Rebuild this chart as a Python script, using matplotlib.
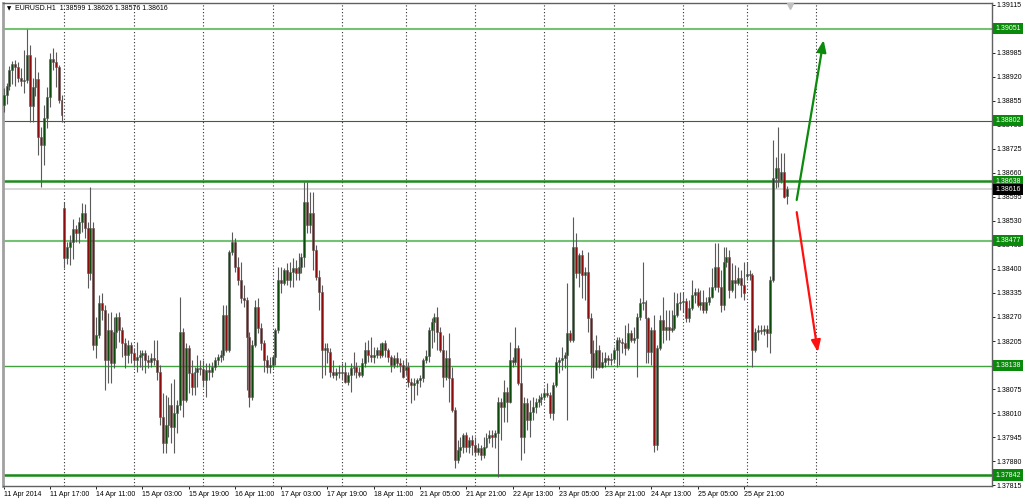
import matplotlib
matplotlib.use('Agg')
import matplotlib.pyplot as plt

# EURUSD H1 candles, bar 0 = 11 Apr 2014 01:00
opens = [
    1.38844, 1.38871, 1.38896, 1.38939, 1.38955, 1.38947, 1.38917, 1.38909, 1.38912, 1.38980,
    1.38841, 1.38893, 1.38915, 1.38757, 1.38736, 1.38809, 1.38866, 1.38969, 1.38961, 1.38947,
    1.38858, 1.38565, 1.38430, 1.38460, 1.38473, 1.38508, 1.38497, 1.38527, 1.38552, 1.38511,
    1.38389, 1.38511, 1.38194, 1.38221, 1.38308, 1.38289, 1.38154, 1.38235, 1.38145, 1.38229,
    1.38270, 1.38235, 1.38200, 1.38167, 1.38194, 1.38172, 1.38154, 1.38162, 1.38167, 1.38172,
    1.38154, 1.38148, 1.38159, 1.38154, 1.38121, 1.37999, 1.37929, 1.37977, 1.38032, 1.37972,
    1.38010, 1.38032, 1.38229, 1.38045, 1.38186, 1.38118, 1.38080, 1.38121, 1.38132, 1.38129,
    1.38099, 1.38126, 1.38121, 1.38135, 1.38154, 1.38162, 1.38167, 1.38275, 1.38181, 1.38446,
    1.38473, 1.38405, 1.38370, 1.38321, 1.38316, 1.38216, 1.38053, 1.38194, 1.38297, 1.38240,
    1.38200, 1.38154, 1.38135, 1.38140, 1.38162, 1.38235, 1.38370, 1.38362, 1.38397, 1.38370,
    1.38392, 1.38403, 1.38389, 1.38405, 1.38432, 1.38581, 1.38519, 1.38552, 1.38451, 1.38378,
    1.38338, 1.38181, 1.38186, 1.38175, 1.38121, 1.38113, 1.38121, 1.38118, 1.38121, 1.38094,
    1.38113, 1.38132, 1.38135, 1.38121, 1.38113, 1.38145, 1.38181, 1.38167, 1.38162, 1.38167,
    1.38181, 1.38167, 1.38200, 1.38181, 1.38162, 1.38140, 1.38159, 1.38145, 1.38140, 1.38126,
    1.38135, 1.38094, 1.38086, 1.38091, 1.38099, 1.38105, 1.38154, 1.38164, 1.38235, 1.38256,
    1.38270, 1.38229, 1.38181, 1.38107, 1.38159, 1.38105, 1.38018, 1.37883, 1.37910, 1.37918,
    1.37950, 1.37918, 1.37937, 1.37923, 1.37904, 1.37915, 1.37896, 1.37918, 1.37942, 1.37950,
    1.37945, 1.37956, 1.38040, 1.38026, 1.38067, 1.38040, 1.38154, 1.38148, 1.38186, 1.38091,
    1.37945, 1.38037, 1.37991, 1.38013, 1.38026, 1.38040, 1.38048, 1.38053, 1.38064, 1.38059,
    1.38010, 1.38086, 1.38148, 1.38154, 1.38159, 1.38167, 1.38227, 1.38208, 1.38460, 1.38389,
    1.38438, 1.38384, 1.38392, 1.38267, 1.38172, 1.38135, 1.38181, 1.38135, 1.38148, 1.38159,
    1.38154, 1.38156, 1.38181, 1.38208, 1.38202, 1.38200, 1.38186, 1.38227, 1.38208, 1.38213,
    1.38270, 1.38308, 1.38311, 1.38267, 1.38175, 1.38235, 1.37923, 1.38186, 1.38262, 1.38235,
    1.38243, 1.38235, 1.38240, 1.38275, 1.38308, 1.38311, 1.38313, 1.38267, 1.38294, 1.38330,
    1.38338, 1.38302, 1.38311, 1.38289, 1.38311, 1.38324, 1.38351, 1.38405, 1.38351, 1.38302,
    1.38419, 1.38432, 1.38343, 1.38370, 1.38362, 1.38376, 1.38357, 1.38381, 1.38386, 1.38384,
    1.38181, 1.38229, 1.38235, 1.38232, 1.38237, 1.38227, 1.38370, 1.38646, 1.38674, 1.38641,
    1.38663, 1.38599,
]
highs = [
    1.38890, 1.38904, 1.38950, 1.38963, 1.38966, 1.38961, 1.38944, 1.38993, 1.39050, 1.39007,
    1.38917, 1.38974, 1.38934, 1.38785, 1.38844, 1.38893, 1.38985, 1.38999, 1.38988, 1.38952,
    1.38871, 1.38581, 1.38473, 1.38492, 1.38535, 1.38519, 1.38541, 1.38579, 1.38576, 1.38527,
    1.38622, 1.38527, 1.38270, 1.38330, 1.38335, 1.38302, 1.38281, 1.38284, 1.38270, 1.38281,
    1.38284, 1.38243, 1.38213, 1.38208, 1.38202, 1.38186, 1.38202, 1.38181, 1.38181, 1.38181,
    1.38167, 1.38172, 1.38208, 1.38208, 1.38140, 1.38064, 1.38059, 1.38053, 1.38091, 1.38102,
    1.38045, 1.38324, 1.38240, 1.38200, 1.38194, 1.38154, 1.38135, 1.38167, 1.38154, 1.38154,
    1.38145, 1.38145, 1.38148, 1.38162, 1.38170, 1.38181, 1.38302, 1.38302, 1.38451, 1.38500,
    1.38484, 1.38432, 1.38419, 1.38357, 1.38324, 1.38229, 1.38208, 1.38316, 1.38321, 1.38254,
    1.38208, 1.38167, 1.38162, 1.38167, 1.38240, 1.38405, 1.38405, 1.38403, 1.38416, 1.38419,
    1.38430, 1.38424, 1.38443, 1.38443, 1.38636, 1.38636, 1.38609, 1.38609, 1.38465, 1.38397,
    1.38357, 1.38200, 1.38200, 1.38186, 1.38154, 1.38132, 1.38140, 1.38145, 1.38148, 1.38121,
    1.38145, 1.38175, 1.38148, 1.38135, 1.38159, 1.38202, 1.38208, 1.38216, 1.38189, 1.38189,
    1.38200, 1.38202, 1.38208, 1.38186, 1.38167, 1.38167, 1.38175, 1.38159, 1.38154, 1.38159,
    1.38148, 1.38105, 1.38105, 1.38105, 1.38113, 1.38159, 1.38181, 1.38243, 1.38267, 1.38281,
    1.38297, 1.38243, 1.38221, 1.38181, 1.38227, 1.38135, 1.38026, 1.37937, 1.37945, 1.37956,
    1.37959, 1.37945, 1.37950, 1.37945, 1.37929, 1.37923, 1.37945, 1.37956, 1.37964, 1.37964,
    1.37964, 1.38053, 1.38051, 1.38099, 1.38080, 1.38202, 1.38162, 1.38243, 1.38194, 1.38159,
    1.38053, 1.38051, 1.38045, 1.38053, 1.38051, 1.38059, 1.38064, 1.38078, 1.38091, 1.38067,
    1.38094, 1.38162, 1.38162, 1.38189, 1.38175, 1.38362, 1.38235, 1.38541, 1.38497, 1.38443,
    1.38451, 1.38405, 1.38446, 1.38281, 1.38208, 1.38221, 1.38194, 1.38175, 1.38175, 1.38167,
    1.38172, 1.38189, 1.38216, 1.38216, 1.38213, 1.38248, 1.38254, 1.38235, 1.38243, 1.38281,
    1.38321, 1.38419, 1.38316, 1.38270, 1.38243, 1.38275, 1.38194, 1.38275, 1.38324, 1.38289,
    1.38289, 1.38289, 1.38338, 1.38335, 1.38338, 1.38338, 1.38321, 1.38316, 1.38370, 1.38349,
    1.38349, 1.38343, 1.38343, 1.38324, 1.38351, 1.38403, 1.38470, 1.38470, 1.38397, 1.38460,
    1.38460, 1.38451, 1.38416, 1.38411, 1.38405, 1.38397, 1.38419, 1.38419, 1.38397, 1.38389,
    1.38240, 1.38248, 1.38248, 1.38248, 1.38248, 1.38381, 1.38749, 1.38703, 1.38785, 1.38714,
    1.38714, 1.38626,
]
lows = [
    1.38825, 1.38847, 1.38885, 1.38901, 1.38896, 1.38906, 1.38896, 1.38877, 1.38904, 1.38798,
    1.38798, 1.38869, 1.38709, 1.38622, 1.38682, 1.38782, 1.38839, 1.38939, 1.38893, 1.38850,
    1.38798, 1.38403, 1.38414, 1.38411, 1.38427, 1.38473, 1.38470, 1.38500, 1.38484, 1.38349,
    1.38370, 1.38181, 1.38159, 1.38213, 1.38262, 1.38072, 1.38091, 1.38091, 1.38132, 1.38186,
    1.38202, 1.38162, 1.38132, 1.38145, 1.38145, 1.38135, 1.38121, 1.38135, 1.38126, 1.38118,
    1.38132, 1.38135, 1.38140, 1.38099, 1.37977, 1.37902, 1.37902, 1.37945, 1.37929, 1.37902,
    1.37956, 1.38018, 1.37999, 1.38040, 1.38064, 1.38059, 1.38059, 1.38080, 1.38113, 1.38080,
    1.38053, 1.38099, 1.38107, 1.38126, 1.38140, 1.38148, 1.38154, 1.38175, 1.38175, 1.38438,
    1.38392, 1.38357, 1.38308, 1.38297, 1.38072, 1.38026, 1.38045, 1.38189, 1.38227, 1.38181,
    1.38121, 1.38118, 1.38118, 1.38132, 1.38140, 1.38227, 1.38335, 1.38357, 1.38357, 1.38351,
    1.38351, 1.38370, 1.38370, 1.38389, 1.38405, 1.38497, 1.38497, 1.38397, 1.38370, 1.38289,
    1.38105, 1.38113, 1.38145, 1.38107, 1.38105, 1.38099, 1.38105, 1.38099, 1.38091, 1.38086,
    1.38067, 1.38113, 1.38105, 1.38107, 1.38107, 1.38135, 1.38148, 1.38148, 1.38145, 1.38159,
    1.38159, 1.38162, 1.38162, 1.38148, 1.38121, 1.38132, 1.38135, 1.38121, 1.38105, 1.38113,
    1.38080, 1.38037, 1.38045, 1.38059, 1.38080, 1.38094, 1.38145, 1.38148, 1.38186, 1.38202,
    1.38181, 1.38175, 1.38080, 1.38099, 1.38040, 1.38013, 1.37861, 1.37875, 1.37891, 1.37902,
    1.37904, 1.37902, 1.37896, 1.37894, 1.37896, 1.37883, 1.37888, 1.37915, 1.37929, 1.37918,
    1.37915, 1.37837, 1.37937, 1.37986, 1.37986, 1.38037, 1.38135, 1.38140, 1.38086, 1.37883,
    1.37902, 1.37964, 1.37945, 1.37991, 1.38010, 1.38026, 1.38032, 1.38045, 1.38053, 1.37996,
    1.37991, 1.38080, 1.38118, 1.38126, 1.38132, 1.37991, 1.38202, 1.38202, 1.38376, 1.38351,
    1.38321, 1.38316, 1.38229, 1.38105, 1.38105, 1.38126, 1.38132, 1.38132, 1.38135, 1.38140,
    1.38140, 1.38145, 1.38135, 1.38140, 1.38172, 1.38167, 1.38181, 1.38202, 1.38200, 1.38107,
    1.38262, 1.38289, 1.38145, 1.38145, 1.38140, 1.37904, 1.37910, 1.38181, 1.38200, 1.38208,
    1.38208, 1.38229, 1.38235, 1.38270, 1.38289, 1.38284, 1.38256, 1.38256, 1.38289, 1.38308,
    1.38297, 1.38289, 1.38281, 1.38281, 1.38302, 1.38321, 1.38343, 1.38338, 1.38284, 1.38289,
    1.38405, 1.38321, 1.38338, 1.38321, 1.38357, 1.38324, 1.38316, 1.38370, 1.38370, 1.38135,
    1.38175, 1.38208, 1.38224, 1.38221, 1.38189, 1.38172, 1.38365, 1.38619, 1.38622, 1.38633,
    1.38592, 1.38576,
]
closes = [
    1.38871, 1.38896, 1.38939, 1.38955, 1.38947, 1.38917, 1.38909, 1.38912, 1.38980, 1.38841,
    1.38893, 1.38915, 1.38757, 1.38736, 1.38809, 1.38866, 1.38969, 1.38961, 1.38947, 1.38858,
    1.38817, 1.38430, 1.38460, 1.38473, 1.38508, 1.38497, 1.38527, 1.38552, 1.38511, 1.38389,
    1.38511, 1.38194, 1.38221, 1.38308, 1.38289, 1.38154, 1.38235, 1.38145, 1.38229, 1.38270,
    1.38235, 1.38200, 1.38167, 1.38194, 1.38172, 1.38154, 1.38162, 1.38167, 1.38172, 1.38154,
    1.38148, 1.38159, 1.38154, 1.38121, 1.37999, 1.37929, 1.37977, 1.38032, 1.37972, 1.38010,
    1.38032, 1.38229, 1.38045, 1.38186, 1.38118, 1.38080, 1.38121, 1.38132, 1.38129, 1.38099,
    1.38126, 1.38121, 1.38135, 1.38154, 1.38162, 1.38167, 1.38275, 1.38181, 1.38446, 1.38473,
    1.38405, 1.38370, 1.38321, 1.38316, 1.38216, 1.38053, 1.38194, 1.38297, 1.38240, 1.38200,
    1.38154, 1.38135, 1.38140, 1.38162, 1.38235, 1.38370, 1.38362, 1.38397, 1.38370, 1.38392,
    1.38403, 1.38389, 1.38405, 1.38432, 1.38581, 1.38519, 1.38552, 1.38451, 1.38378, 1.38338,
    1.38181, 1.38186, 1.38175, 1.38121, 1.38113, 1.38121, 1.38118, 1.38121, 1.38094, 1.38113,
    1.38132, 1.38135, 1.38121, 1.38113, 1.38145, 1.38181, 1.38167, 1.38162, 1.38167, 1.38181,
    1.38167, 1.38200, 1.38181, 1.38162, 1.38140, 1.38159, 1.38145, 1.38140, 1.38107, 1.38135,
    1.38094, 1.38086, 1.38091, 1.38099, 1.38105, 1.38154, 1.38164, 1.38235, 1.38256, 1.38270,
    1.38229, 1.38181, 1.38107, 1.38159, 1.38105, 1.38018, 1.37883, 1.37910, 1.37918, 1.37950,
    1.37918, 1.37937, 1.37923, 1.37904, 1.37915, 1.37896, 1.37918, 1.37942, 1.37950, 1.37945,
    1.37956, 1.38040, 1.38026, 1.38067, 1.38040, 1.38154, 1.38148, 1.38186, 1.38091, 1.37945,
    1.38037, 1.37991, 1.38013, 1.38026, 1.38040, 1.38048, 1.38053, 1.38064, 1.38059, 1.38010,
    1.38086, 1.38148, 1.38154, 1.38159, 1.38167, 1.38227, 1.38208, 1.38460, 1.38389, 1.38438,
    1.38384, 1.38392, 1.38267, 1.38172, 1.38135, 1.38181, 1.38135, 1.38148, 1.38159, 1.38154,
    1.38156, 1.38181, 1.38208, 1.38202, 1.38200, 1.38186, 1.38227, 1.38208, 1.38213, 1.38270,
    1.38308, 1.38311, 1.38267, 1.38175, 1.38235, 1.37923, 1.38186, 1.38262, 1.38235, 1.38243,
    1.38235, 1.38240, 1.38275, 1.38308, 1.38311, 1.38313, 1.38267, 1.38294, 1.38330, 1.38338,
    1.38302, 1.38311, 1.38289, 1.38311, 1.38324, 1.38351, 1.38405, 1.38351, 1.38302, 1.38419,
    1.38432, 1.38343, 1.38370, 1.38362, 1.38376, 1.38357, 1.38335, 1.38386, 1.38384, 1.38181,
    1.38229, 1.38235, 1.38232, 1.38237, 1.38227, 1.38370, 1.38646, 1.38674, 1.38641, 1.38663,
    1.38595, 1.38616,
]

# time axis
label_bars = [0, 16, 32, 48, 64, 80, 96, 112, 128, 144, 160, 176, 192, 208, 224, 240, 256]
time_labels = ['11 Apr 2014', '11 Apr 17:00', '14 Apr 11:00', '15 Apr 03:00', '15 Apr 19:00',
               '16 Apr 11:00', '17 Apr 03:00', '17 Apr 19:00', '18 Apr 11:00', '21 Apr 05:00',
               '21 Apr 21:00', '22 Apr 13:00', '23 Apr 05:00', '23 Apr 21:00', '24 Apr 13:00',
               '25 Apr 05:00', '25 Apr 21:00']
day_bars = [21, 45, 69, 93, 117, 139, 163, 187, 211, 235, 257, 281]

price_ticks = [1.37815, 1.37880, 1.37945, 1.38010, 1.38075, 1.38140, 1.38205, 1.38270,
               1.38335, 1.38400, 1.38465, 1.38530, 1.38595, 1.38660, 1.38725, 1.38790,
               1.38855, 1.38920, 1.38985, 1.39050, 1.39115]

# support / resistance lines drawn on the chart
levels = [1.39051, 1.38802, 1.38638, 1.38477, 1.38138, 1.37842]
level_colors = ['#74c274', '#2f6a2f', '#1f8a1f', '#74c274', '#3fa23f', '#178a17']
level_widths = [1.5, 0.8, 1.8, 1.5, 1.0, 1.8]

# scenario arrows: (bar, price) start -> end
up_arrow = [(274.3, 1.38587), (283.6, 1.39020)]
down_arrow = [(274.3, 1.38554), (281.6, 1.38175)]

plt.rcParams['font.family'] = ['Liberation Sans', 'DejaVu Sans']

fig = plt.figure(figsize=(10.24, 5.03), dpi=100)
fig.patch.set_facecolor('white')
ax = fig.add_axes([3 / 1024, 17 / 503, 989 / 1024, 483 / 503])
ax.set_facecolor('white')

n = len(closes)
idx = list(range(n))
bottoms = [min(o, c) for o, c in zip(opens, closes)]
heights = [max(abs(c - o), 0.000015) for o, c in zip(opens, closes)]
colors = ['#0b4a0b' if c >= o else '#8b0c0c' for o, c in zip(opens, closes)]

# day separators
for b in day_bars:
    ax.axvline(b, color='#303030', lw=0.8, ls=(0, (1, 2)), zorder=1)

# horizontal levels
for lv, col, lw in zip(levels, level_colors, level_widths):
    ax.axhline(lv, color=col, lw=lw, zorder=2)
last_price = closes[-1]
ax.axhline(last_price, color='#cfcfcf', lw=1.2, zorder=2)

# candles
ax.vlines(idx, lows, highs, color='#5a5a5a', lw=0.8, zorder=3)
ax.bar(idx, heights, bottom=bottoms, width=0.68, color=colors,
       edgecolor='#5a5a5a', linewidth=0.4, zorder=4)

# arrows
ax.annotate('', xy=up_arrow[1], xytext=up_arrow[0],
            arrowprops=dict(arrowstyle='-|>,head_length=0.7,head_width=0.28',
                            color='#0b8a0b', lw=1.6, shrinkA=0, shrinkB=0), zorder=6)
ax.annotate('', xy=down_arrow[1], xytext=down_arrow[0],
            arrowprops=dict(arrowstyle='-|>,head_length=0.7,head_width=0.28',
                            color='#ff1010', lw=1.6, shrinkA=0, shrinkB=0), zorder=6)

ax.set_xlim(-0.24, 341.85)
ax.set_ylim(1.378123, 1.391204)

# axes look
ax.yaxis.tick_right()
ax.set_yticks(price_ticks)
ax.set_yticklabels(['%.5f' % p for p in price_ticks])
ax.set_xticks(label_bars)
ax.set_xticklabels(time_labels)
for lbl in ax.get_xticklabels():
    lbl.set_ha('left')
ax.tick_params(axis='y', length=2, width=0.6, pad=1.2, labelsize=5, colors='black')
ax.tick_params(axis='x', length=2.5, width=0.6, pad=1.2, labelsize=5, colors='black')
for side in ['top', 'right', 'bottom']:
    ax.spines[side].set_color('#606060')
    ax.spines[side].set_linewidth(1)
ax.spines['left'].set_color('#a0a0a0')
ax.spines['left'].set_linewidth(2)

# price boxes on the right scale
trans = ax.get_yaxis_transform()
for lv in levels:
    ax.text(1.0035, lv, '%.5f' % lv, transform=trans, fontsize=5, color='white',
            va='center', ha='left', clip_on=False, zorder=10,
            bbox=dict(boxstyle='square,pad=0.3', fc='#0a8a0a', ec='none'))
ax.text(1.0035, last_price, '%.5f' % last_price, transform=trans, fontsize=5, color='white',
        va='center', ha='left', clip_on=False, zorder=10,
        bbox=dict(boxstyle='square,pad=0.3', fc='black', ec='none'))

# chart shift marker
ax.plot([272], [1.39112], marker='v', color='#c0c0c0', ms=4, zorder=5, clip_on=False)

# header
fig.text(7 / 1024, 1 - 9 / 503, '\u25bc', fontsize=4, family='DejaVu Sans', va='center')
fig.text(15 / 1024, 1 - 9 / 503,
         'EURUSD.H1  %.5f %.5f %.5f %.5f' % (opens[-1], highs[-1], lows[-1], closes[-1]),
         fontsize=5, va='center')

fig.savefig('out.png', dpi=100)
